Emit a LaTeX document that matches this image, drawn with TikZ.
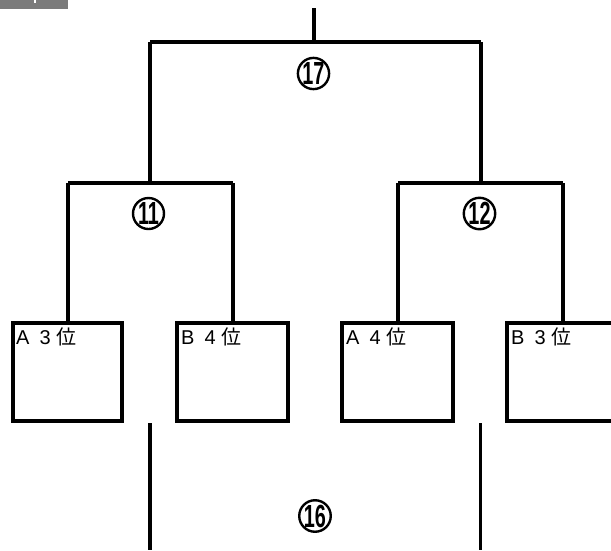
\documentclass[tikz,border=0pt]{standalone}
\usepackage{fontspec}
\setmainfont{Liberation Sans}
\newfontfamily\jpfont{Noto Sans CJK JP}
\begin{document}
\begin{tikzpicture}[x=1pt,y=-1pt,
  wire/.style={line width=3.2pt},
  slot/.style={draw,line width=3.2pt,minimum width=109pt,minimum height=98pt,inner sep=0pt},
  lbl/.style={anchor=north west,inner sep=0pt,font=\fontsize{20}{20}\selectfont},
  game/.style={draw,circle,line width=2.4pt,minimum size=31pt,inner sep=0pt,
    font=\fontsize{32}{32}\selectfont\bfseries}]
\useasboundingbox (0,0) rectangle (611,550);
\clip (0,0) rectangle (611,550);
% top-left tab
\fill[gray!85!black!90] (0,0) rectangle (68,9);
\fill[white] (34,0) rectangle (36,3);
% coordinates
\coordinate (top) at (314,8);
\coordinate (f) at (314,42);
\coordinate (fl) at (150,42);
\coordinate (fr) at (481,42);
\coordinate (sl) at (150,183);
\coordinate (sr) at (481,183);
\coordinate (sll) at (68,183);
\coordinate (slr) at (233,183);
\coordinate (srl) at (398,183);
\coordinate (srr) at (563,183);
% boxes
\node[slot] (b1) at (67.5,372) {};
\node[slot,minimum width=111pt] (b2) at (232.5,372) {};
\node[slot,minimum width=111pt] (b3) at (397.5,372) {};
\node[slot,minimum width=111pt] (b4) at (562.5,372) {};
% labels
\node[lbl] (l1) at (16,328) {A\hspace{10pt}3\hspace{6pt}{\jpfont 位}};
\node[lbl] (l2) at (181,328) {B\hspace{10pt}4\hspace{6pt}{\jpfont 位}};
\node[lbl] (l3) at (346,328) {A\hspace{10pt}4\hspace{6pt}{\jpfont 位}};
\node[lbl] (l4) at (511,328) {B\hspace{10pt}3\hspace{6pt}{\jpfont 位}};
% bracket lines
\draw[wire] (top) -- (f);
\draw[wire] (fl) -- (fr);
\draw[wire] (fl) -- (sl);
\draw[wire] (fr) -- (sr);
\draw[wire] (sll) -- (slr);
\draw[wire] (srl) -- (srr);
\draw[wire] (sll) -- (b1.north -| sll);
\draw[wire] (slr) -- (b2.north -| slr);
\draw[wire] (srl) -- (b3.north -| srl);
\draw[wire] (srr) -- (b4.north -| srr);
% bottom lines
\coordinate (bl1) at (150,423);
\coordinate (bl2) at (150,550);
\coordinate (br1) at (480.5,423);
\coordinate (br2) at (480.5,550);
\draw[wire] (bl1) -- (bl2);
\draw[wire] (br1) -- (br2);
% game numbers
\node[game] (g17) at (313.5,73.5) {\scalebox{0.62}[1]{17}};
\node[game] (g11) at (148.5,213.5) {\scalebox{0.62}[1]{11}};
\node[game] (g12) at (479.5,213.5) {\scalebox{0.62}[1]{12}};
\node[game] (g16) at (315,516) {\scalebox{0.62}[1]{16}};
\end{tikzpicture}
\end{document}
